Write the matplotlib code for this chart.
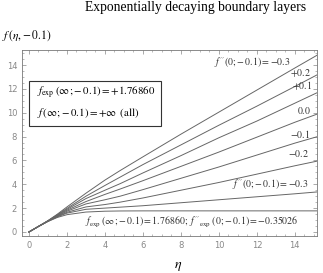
import matplotlib
matplotlib.use("Agg")
from matplotlib import pyplot as plt
from matplotlib.ticker import MultipleLocator

plt.rcParams["mathtext.fontset"] = "stix"
plt.rcParams["font.family"] = ["Liberation Serif", "DejaVu Serif"]

# values
eta = [0, 0.5, 1, 1.5, 2, 3, 4, 4.8, 6, 8, 10, 12, 14, 15.2]
curves = {
    "0.3": [0, 0.47, 0.95, 1.5, 2.1, 3.25, 4.35, 5.15, 6.3, 8.2, 10.05, 11.9, 13.75, 14.85],
    "0.2": [0, 0.47, 0.94, 1.45, 1.98, 3.0, 3.9, 4.6, 5.65, 7.3, 8.95, 10.55, 12.2, 13.2],
    "0.1": [0, 0.47, 0.93, 1.42, 1.9, 2.8, 3.5, 4.05, 4.95, 6.4, 7.9, 9.3, 10.8, 11.7],
    "0.0": [0, 0.46, 0.92, 1.38, 1.82, 2.55, 3.15, 3.6, 4.3, 5.5, 6.7, 7.95, 9.2, 9.9],
    "-0.1": [0, 0.46, 0.91, 1.34, 1.74, 2.35, 2.7, 3.0, 3.55, 4.5, 5.45, 6.45, 7.45, 8.0],
    "-0.2": [0, 0.46, 0.9, 1.3, 1.65, 2.1, 2.3, 2.5, 2.85, 3.5, 4.15, 4.85, 5.55, 5.95],
    "-0.3": [0, 0.46, 0.89, 1.27, 1.58, 1.9, 2.0, 2.08, 2.2, 2.45, 2.7, 2.95, 3.2, 3.36],
    "exp": [0, 0.46, 0.88, 1.22, 1.45, 1.67, 1.74, 1.76, 1.768, 1.7686, 1.7686, 1.7686, 1.7686, 1.7686],
}
xticks = [0, 2, 4, 6, 8, 10, 12, 14]
yticks = [0, 2, 4, 6, 8, 10, 12, 14]

fig = plt.figure(figsize=(3.23, 2.73), dpi=100)
ax = fig.add_axes([0.068, 0.1355, 0.913, 0.6813])

for k, v in curves.items():
    ax.plot(eta, v, color="#666666", lw=0.7)

ax.set_xlim(-0.37, 15.16)
ax.set_ylim(-0.34, 15.26)
ax.set_xticks(xticks)
ax.set_yticks(yticks)
ax.xaxis.set_minor_locator(MultipleLocator(0.5))
ax.yaxis.set_minor_locator(MultipleLocator(0.5))
ax.tick_params(which="both", direction="in", top=True, right=True,
               colors="#888888", labelsize=6, labelcolor="#888888")
ax.tick_params(which="major", length=3, width=0.5)
ax.tick_params(which="minor", length=1.5, width=0.4)
for lbl in ax.get_xticklabels() + ax.get_yticklabels():
    lbl.set_family("DejaVu Sans")
for s in ax.spines.values():
    s.set_color("#777777")
    s.set_linewidth(0.6)

ax.set_xlabel(r"$\eta$", fontsize=10)
ax.xaxis.set_label_coords(0.53, -0.13)
fig.text(0.006, 0.868, r"$f\,(\eta,\!-0.1)$", fontsize=8.3, va="center")
fig.text(0.263, 0.997, "Exponentially decaying boundary layers", fontsize=9.8, va="top")

# box with asymptotic values
ax.add_patch(plt.Rectangle((0, 8.9), 6.93, 3.8, fill=False, lw=0.8, ec="#333333"))
ax.text(0.42, 11.7, r"$f_{\exp}\,(\infty;\!-0.1) = +1.76860$", fontsize=7.8, va="center")
ax.text(0.42, 10.0, r"$f\,(\infty;\!-0.1) = +\infty\ \,(\mathrm{all})$", fontsize=7.8, va="center")

lab = dict(fontsize=7.1, va="center", color="#333333")
ax.text(13.75, 14.25, r"$f''(0;\!-0.1) = -0.3$", ha="right", **lab)
ax.text(14.3, 13.3, r"$+0.2$", ha="center", **lab)
ax.text(14.4, 12.3, r"$+0.1$", ha="center", **lab)
ax.text(14.5, 10.15, r"$0.0$", ha="center", **lab)
ax.text(14.25, 8.2, r"$-0.1$", ha="center", **lab)
ax.text(14.2, 6.55, r"$-0.2$", ha="center", **lab)
ax.text(14.7, 4.0, r"$f''(0;\!-0.1) = -0.3$", ha="right", **lab)
ax.text(2.95, 0.84, r"$f_{\exp}\,(\infty;\!-0.1) = 1.76860;\ f''_{\exp}\,(0;\!-0.1) = -0.35026$",
        ha="left", **lab)

fig.savefig("out.png", dpi=100)
